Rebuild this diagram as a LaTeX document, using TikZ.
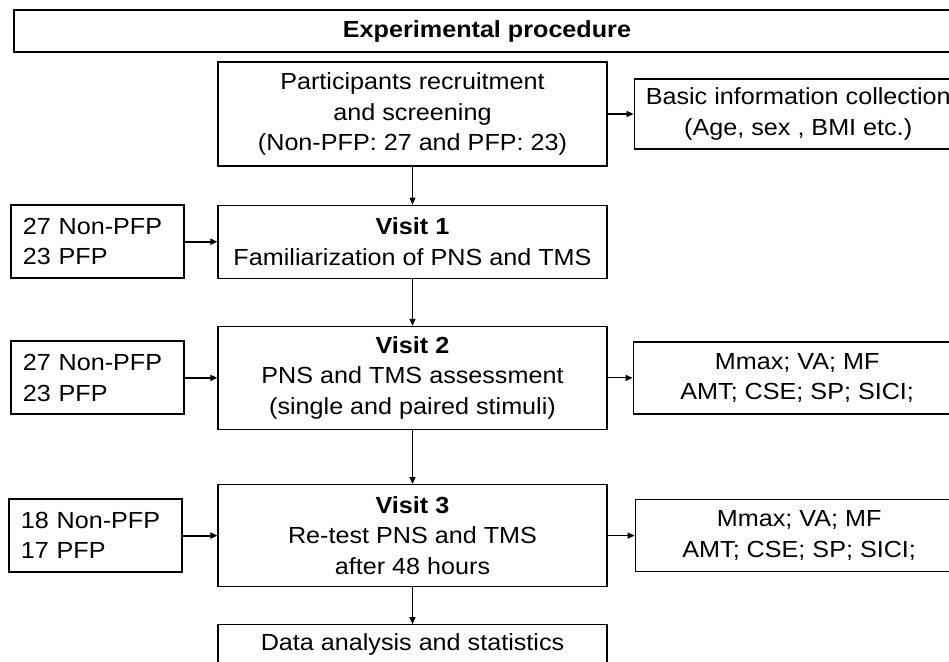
\documentclass[tikz,border=0pt]{standalone}
\usepackage{fontspec}
\setmainfont{Liberation Sans}[FakeStretch=1.08]
\usepackage{tikz}
\usetikzlibrary{arrows.meta, positioning}

\begin{document}
\begin{tikzpicture}[x=1pt, y=1pt, >={Triangle[length=7pt, width=6pt]},
  font=\fontsize{23.3}{30.5}\selectfont,
  mainbox/.style={draw, line width=1.2pt, align=center, minimum width=389pt, inner sep=0pt},
  groupbox/.style={draw, line width=2pt, align=left, text width=150pt, minimum width=173pt, minimum height=73pt, inner sep=0pt},
  outbox/.style={draw, line width=1.2pt, align=center, minimum width=328pt, minimum height=72pt, inner sep=0pt},
  link/.style={->, line width=1.1pt},
  thicklink/.style={->, line width=2.2pt}]
\path[use as bounding box, clip] (0,0) rectangle (949,-661);

\node[draw, line width=1.2pt, minimum width=946pt, minimum height=42pt, font=\fontsize{23.3}{30.5}\selectfont\bfseries] (title) at (487,-31) {Experimental procedure};

% main column
\node[mainbox, minimum height=104pt] (parts) at (412.5,-114) {Participants recruitment\\and screening\\(Non-PFP: 27 and PFP: 23)};
\node[mainbox, minimum height=73pt, below=38pt of parts] (visit1) {\textbf{Visit 1}\\Familiarization of PNS and TMS};
\node[mainbox, minimum height=103pt, below=47pt of visit1] (visit2) {\textbf{Visit 2}\\PNS and TMS assessment\\(single and paired stimuli)};
\node[mainbox, minimum height=102pt, below=54pt of visit2] (visit3) {\textbf{Visit 3}\\Re-test PNS and TMS\\after 48 hours};
\node[mainbox, minimum height=40pt, below=37pt of visit3] (data) {Data analysis and statistics};

% groups on the left
\node[groupbox, left=32pt of visit1] (grp1) {27 Non-PFP\\23 PFP};
\node[groupbox, left=32pt of visit2] (grp2) {27 Non-PFP\\23 PFP};
\node[groupbox, left=34pt of visit3] (grp3) {18 Non-PFP\\17 PFP};

% outcomes on the right
\node[outbox, minimum height=70pt, right=26pt of parts] (basic) {Basic information collection\\(Age, sex , BMI etc.)};
\node[outbox, right=25pt of visit2] (meas2) {Mmax; VA; MF\\AMT; CSE; SP; SICI;};
\node[outbox, right=27pt of visit3] (meas3) {Mmax; VA; MF\\AMT; CSE; SP; SICI;};

\draw[link] (parts) -- (visit1);
\draw[link] (visit1) -- (visit2);
\draw[link] (visit2) -- (visit3);
\draw[link] (visit3) -- (data);
\draw[link] (parts) -- (basic);
\draw[link] (visit2) -- (meas2);
\draw[link] (visit3) -- (meas3);
\draw[thicklink] (grp1) -- (visit1);
\draw[thicklink] (grp2) -- (visit2);
\draw[thicklink] (grp3) -- (visit3);
\end{tikzpicture}
\end{document}
